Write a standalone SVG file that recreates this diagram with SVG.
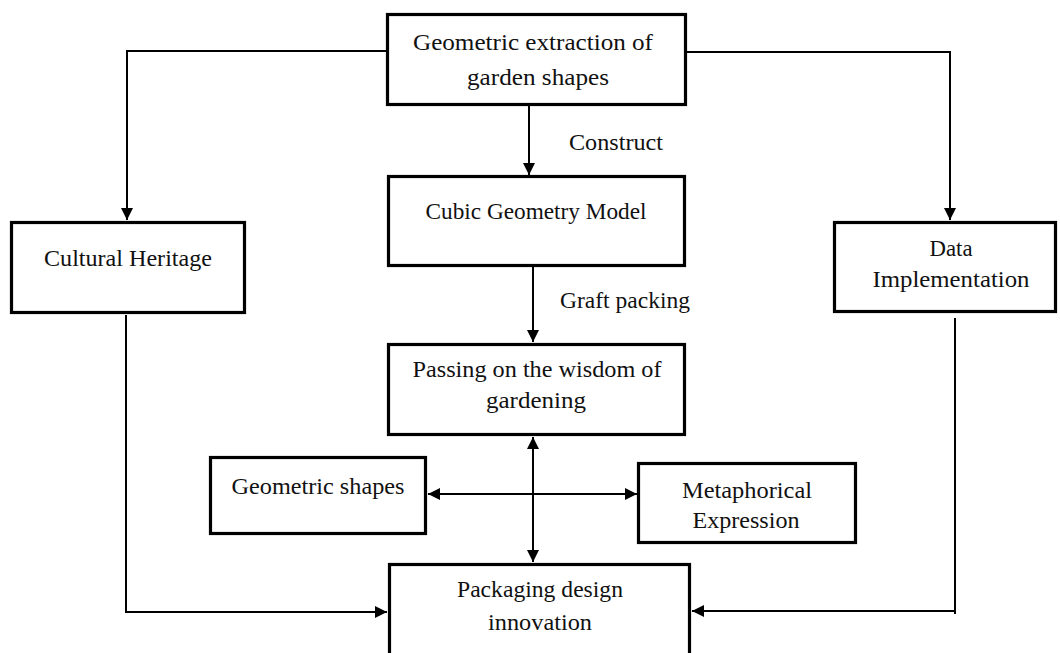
<svg xmlns="http://www.w3.org/2000/svg" width="1060" height="653" viewBox="0 0 1060 653">
<defs>
<style>
.box{fill:#fff;stroke:#000;stroke-width:3.2}
.t{font-family:"Liberation Serif","Times New Roman",serif;font-size:23px;fill:#111;text-anchor:middle}
.c{fill:none;stroke:#000;stroke-width:2}
</style>
<marker id="ah" viewBox="0 0 12 12" markerUnits="userSpaceOnUse" markerWidth="12" markerHeight="12" refX="12" refY="6" orient="auto-start-reverse">
<path d="M0,0 L12,6 L0,12 z" fill="#000"/>
</marker>
</defs>
<rect width="1060" height="653" fill="#fff"/>
<g id="connectors">
<path class="c" d="M386,51 H127 V220" marker-end="url(#ah)"/>
<path class="c" d="M687,52 H950 V220" marker-end="url(#ah)"/>
<path class="c" d="M529,106 V175" marker-end="url(#ah)"/>
<path class="c" d="M533,267 V342" marker-end="url(#ah)"/>
<path class="c" d="M533,437 V562" marker-start="url(#ah)" marker-end="url(#ah)"/>
<path class="c" d="M428,494 H637" marker-start="url(#ah)" marker-end="url(#ah)"/>
<path class="c" d="M126,315 V612 H387" marker-end="url(#ah)"/>
<path class="c" d="M955,318 V614"/>
<path class="c" d="M956,611 H692" marker-end="url(#ah)"/>
<text class="t" x="616" y="150" textLength="94" lengthAdjust="spacingAndGlyphs">Construct</text>
<text class="t" x="625" y="308" textLength="130" lengthAdjust="spacingAndGlyphs">Graft packing</text>
</g>
<g id="n-top">
<rect class="box" x="387.5" y="14.5" width="298" height="90"/>
<text class="t" x="533" y="50" textLength="240" lengthAdjust="spacingAndGlyphs">Geometric extraction of</text>
<text class="t" x="538" y="85" textLength="142" lengthAdjust="spacingAndGlyphs">garden shapes</text>
</g>
<g id="n-cubic">
<rect class="box" x="388.5" y="176.5" width="296" height="89"/>
<text class="t" x="536" y="219" textLength="221" lengthAdjust="spacingAndGlyphs">Cubic Geometry Model</text>
</g>
<g id="n-cultural">
<rect class="box" x="11.5" y="222.5" width="233" height="90"/>
<text class="t" x="128" y="266" textLength="168" lengthAdjust="spacingAndGlyphs">Cultural Heritage</text>
</g>
<g id="n-data">
<rect class="box" x="834.5" y="222.5" width="221" height="89"/>
<text class="t" x="951" y="256" textLength="43" lengthAdjust="spacingAndGlyphs">Data</text>
<text class="t" x="951" y="287" textLength="157" lengthAdjust="spacingAndGlyphs">Implementation</text>
</g>
<g id="n-passing">
<rect class="box" x="388.5" y="344.5" width="296" height="90"/>
<text class="t" x="537" y="377" textLength="249" lengthAdjust="spacingAndGlyphs">Passing on the wisdom of</text>
<text class="t" x="536" y="408" textLength="100" lengthAdjust="spacingAndGlyphs">gardening</text>
</g>
<g id="n-geom">
<rect class="box" x="210.5" y="457.5" width="215" height="76"/>
<text class="t" x="318" y="494" textLength="173" lengthAdjust="spacingAndGlyphs">Geometric shapes</text>
</g>
<g id="n-meta">
<rect class="box" x="638.5" y="463.5" width="217" height="79"/>
<text class="t" x="747" y="498" textLength="130" lengthAdjust="spacingAndGlyphs">Metaphorical</text>
<text class="t" x="746" y="528" textLength="107" lengthAdjust="spacingAndGlyphs">Expression</text>
</g>
<g id="n-pack">
<rect class="box" x="389.5" y="564.5" width="300" height="100"/>
<text class="t" x="540" y="597" textLength="166" lengthAdjust="spacingAndGlyphs">Packaging design</text>
<text class="t" x="540" y="630" textLength="104" lengthAdjust="spacingAndGlyphs">innovation</text>
</g>
</svg>
